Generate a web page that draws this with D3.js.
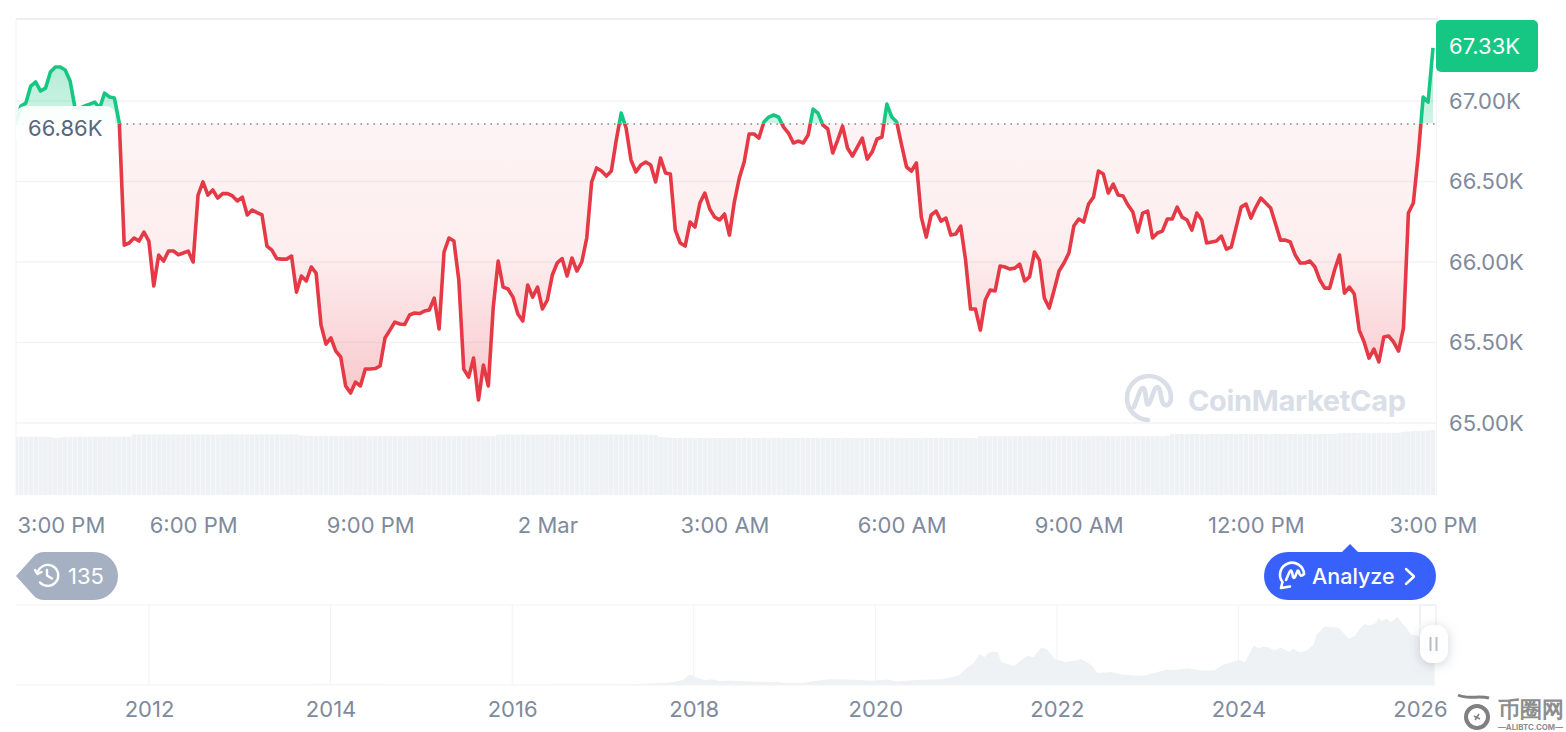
<!DOCTYPE html>
<html>
<head>
<meta charset="utf-8">
<script src="https://cdn.jsdelivr.net/npm/d3@7/dist/d3.min.js"></script>
<style>
  html, body { margin: 0; padding: 0; background: #fff; }
  svg { display: block; }
  text { font-family: Inter, "Noto Sans", sans-serif; }
</style>
</head>
<body>
<svg id="chart" width="1566" height="732" viewBox="0 0 1566 732"></svg>
<script>
// Price in thousands of USD, one sample every 5 minutes over 24 hours
const prices = [
66.863,66.969,66.987,67.093,67.118,67.062,67.080,67.180,67.211,67.211,67.192,67.124,66.956,66.956,66.969,66.981,66.993,66.956,67.049,67.025,67.018,66.863,66.105,
66.118,66.149,66.130,66.186,66.130,65.851,66.043,66.006,66.068,66.068,66.045,66.056,66.068,66.000,66.416,66.497,66.416,66.447,66.397,66.425,66.425,66.410,66.379,66.403,66.292,66.323,66.307,66.292,
66.099,66.074,66.021,66.018,66.018,66.037,65.813,65.913,65.882,65.969,65.931,65.608,65.490,65.528,65.447,65.410,65.230,65.186,65.254,65.230,65.335,65.335,65.338,65.354,65.528,65.577,65.627,65.615,65.612,65.671,65.683,65.680,65.695,65.702,65.776,65.584,
66.062,66.149,66.130,65.888,65.335,65.285,65.403,65.143,65.360,65.230,65.720,66.006,65.844,65.832,65.782,65.677,65.633,65.857,65.782,65.844,65.708,65.764,65.919,65.994,66.021,65.913,66.025,65.944,66.000,66.149,66.497,66.584,66.565,66.534,66.565,66.757,66.925,66.832,66.633,66.559,66.602,66.621,66.602,66.497,66.646,66.553,66.546,66.198,66.118,66.099,66.248,66.217,66.366,66.428,66.329,66.279,66.261,66.298,66.167,66.372,66.521,66.621,66.795,66.795,66.770,66.869,66.900,66.913,66.900,66.838,66.801,66.739,66.751,66.739,66.789,66.950,66.925,66.851,66.826,66.677,66.757,66.844,66.708,66.658,66.714,66.770,66.639,66.683,66.764,66.776,66.981,66.900,66.869,66.726,66.590,66.565,66.615,66.279,66.155,66.292,66.316,66.254,66.273,66.167,
66.174,66.223,66.012,65.708,65.708,65.577,65.764,65.826,65.820,65.975,65.969,65.956,65.962,65.987,65.882,65.907,66.062,66.012,65.776,65.714,65.826,65.944,65.994,66.056,66.223,66.267,66.248,66.360,66.403,66.565,66.546,66.428,66.484,66.416,66.410,66.354,66.310,66.186,66.304,66.316,66.149,66.180,66.192,66.267,66.267,66.341,66.279,66.261,66.198,66.304,66.261,66.118,66.124,66.130,66.161,66.080,66.093,66.217,66.341,66.360,66.273,66.341,66.397,66.366,66.335,66.236,66.136,66.136,66.124,66.043,65.994,65.994,66.006,65.969,65.888,65.838,65.838,65.950,66.043,65.807,65.844,65.801,65.577,65.503,65.403,65.459,65.379,65.534,65.540,65.503,65.447,65.590,66.304,66.366,66.664,67.025,66.993,67.33
];

// Rolling 24h volume in billions of USD, same sampling as the prices
const volumes = [
29.2,29.3,29.2,29.3,29.2,29.2,29.3,29.0,28.6,28.7,29.0,29.1,29.1,29.2,29.1,29.1,29.2,29.1,29.1,29.2,29.1,29.1,29.2,29.2,
30.3,30.3,30.4,30.3,30.3,30.4,30.3,30.3,30.4,30.3,30.3,30.3,30.4,30.3,30.3,30.3,30.2,30.3,30.3,30.3,30.4,30.3,30.3,30.4,30.3,30.3,30.3,30.4,30.3,30.4,30.3,30.3,30.4,30.4,
29.8,29.6,29.6,29.5,29.5,29.6,29.5,29.5,29.4,29.5,29.5,29.5,29.6,29.5,29.4,29.5,29.5,29.5,29.6,29.5,29.5,29.4,29.5,29.5,29.5,29.6,29.5,29.5,29.5,29.4,29.5,29.5,29.6,29.5,29.5,29.5,29.5,29.6,29.5,29.5,
30.2,30.3,30.3,30.2,30.2,30.3,30.2,30.3,30.2,30.3,30.3,30.2,30.2,30.3,30.2,30.2,30.3,30.3,30.2,30.2,30.3,30.2,30.2,30.3,30.2,30.2,30.2,30.3,30.2,30.2,30.2,30.1,30.0,
29.0,28.8,28.6,28.5,28.5,28.6,28.5,28.4,28.5,28.5,28.6,28.5,28.5,28.5,28.4,28.5,28.5,28.6,28.5,28.5,28.5,28.5,28.4,28.5,28.5,28.6,28.5,28.5,28.5,28.4,28.5,28.5,28.5,28.6,28.5,28.5,28.5,28.4,28.5,28.5,28.5,28.6,28.5,28.5,28.5,28.5,28.4,28.5,28.5,28.6,28.5,28.5,28.5,28.4,28.5,28.5,28.5,28.6,28.5,28.5,28.5,28.5,28.4,28.5,28.6,
29.4,29.5,29.5,29.6,29.5,29.5,29.4,29.5,29.5,29.5,29.6,29.5,29.5,29.5,29.4,29.5,29.5,29.6,29.5,29.5,29.5,29.4,29.5,29.5,29.5,29.6,29.5,29.5,29.5,29.4,29.5,29.5,29.6,29.5,29.5,29.5,29.5,29.4,29.6,
30.4,30.5,30.5,30.6,30.5,30.5,30.4,30.5,30.5,30.6,30.5,30.5,30.5,30.4,30.5,30.5,30.6,30.5,30.5,30.5,30.4,30.5,30.5,30.6,30.5,30.5,30.4,30.5,30.5,30.6,30.5,30.5,30.5,30.6,
30.9,31.0,31.0,31.1,31.0,31.0,30.9,31.0,31.0,31.1,31.0,31.0,31.1,
31.6,31.8,32.0,32.0,32.1,32.2,32.5
];

const priceTicks = [65, 65.5, 66, 66.5, 67];
const referencePrice = 66.86;
const lastPriceLabel = "67.33K";

// Hours since the start of the window, with their axis labels
const timeTickHours = [0, 3, 6, 9, 12, 15, 18, 21, 24];
const timeTickLabels = ["3:00 PM", "6:00 PM", "9:00 PM", "2 Mar", "3:00 AM", "6:00 AM", "9:00 AM", "12:00 PM", "3:00 PM"];

// Long-range overview series: fractional year and price in thousands of USD
const overviewYears = [2010.54,2012,2013,2014,2015,2016,2016.96,2017.3,2017.73,2017.88,2017.96,2018.02,2018.11,2018.2,2018.29,2018.38,2018.61,2018.91,2019,2019.2,2019.38,2019.5,2019.73,2019.96,2020.14,2020.23,2020.5,2020.74,2020.92,2021,2021.09,2021.15,2021.2,2021.25,2021.3,2021.35,2021.39,2021.53,2021.6,2021.68,2021.74,2021.83,2021.89,2021.98,2022.1,2022.2,2022.27,2022.39,2022.45,2022.6,2022.7,2022.86,2022.95,2023.1,2023.21,2023.3,2023.45,2023.6,2023.74,2023.83,2024.01,2024.07,2024.17,2024.22,2024.27,2024.33,2024.4,2024.47,2024.56,2024.6,2024.68,2024.75,2024.83,2024.86,2024.95,2025.1,2025.15,2025.21,2025.28,2025.33,2025.39,2025.45,2025.51,2025.54,2025.58,2025.63,2025.68,2025.75,2025.8,2025.84,2025.9,2025.99,2026.16];
const overviewPrices = [0.1,0.01,0.1,0.8,0.3,0.4,1.0,1.2,4.1,8.8,19.3,14.6,8.8,10.5,7.0,8.2,6.4,5.3,3.6,3.9,8.2,10.5,10.0,7.6,10.0,6.4,9.4,10.5,17.6,29.3,41.0,55.7,50.0,58.0,60.4,58.6,41.0,34.0,44.0,52.7,49.8,67.4,64.5,46.9,41.0,44.0,46.9,35.0,21.7,23.4,19.5,17.0,16.5,23.0,28.0,27.0,30.0,26.0,26.4,36.3,45.0,41.0,71.5,66.0,69.0,67.4,62.0,67.0,60.0,65.0,58.6,62.0,73.0,90.8,105.5,103.7,95.0,83.8,87.9,100.0,109.6,107.0,111.0,120.0,115.0,120.0,113.0,123.0,112.0,105.5,91.0,88.0,67.3];
const overviewTicks = [2012, 2014, 2016, 2018, 2020, 2022, 2024, 2026];

const RED = "#e63946", GREEN = "#16c784", GREY = "#808a9d", RULE = "#f1f3f5", FILL = "#eff2f5";

const svg = d3.select("#chart");
const plot = { left: 16, right: 1436, top: 19, bottom: 495 };

// Scales
const x = d3.scaleLinear().domain([0, 24]).range([16, 1433]);
const y = d3.scaleLinear().domain([65, 67]).range([423, 101]);
const volY = d3.scaleLinear().domain([0, 32.5]).range([495, 430]);
const sampleHour = i => i * 24 / (prices.length - 1);

const defs = svg.append("defs");

const redGrad = defs.append("linearGradient").attr("id", "redFade")
  .attr("gradientUnits", "userSpaceOnUse").attr("x1", 0).attr("x2", 0)
  .attr("y1", y(referencePrice)).attr("y2", y(65.1));
[[0, .06], [.45, .085], [1, .29]].forEach(([o, a]) =>
  redGrad.append("stop").attr("offset", o).attr("stop-color", RED).attr("stop-opacity", a));

const greenGrad = defs.append("linearGradient").attr("id", "greenFade")
  .attr("gradientUnits", "userSpaceOnUse").attr("x1", 0).attr("x2", 0)
  .attr("y1", y(67.33)).attr("y2", y(referencePrice));
[[0, .36], [1, .2]].forEach(([o, a]) =>
  greenGrad.append("stop").attr("offset", o).attr("stop-color", GREEN).attr("stop-opacity", a));

defs.append("clipPath").attr("id", "aboveRef").append("rect")
  .attr("x", plot.left).attr("y", 0).attr("width", plot.right - plot.left).attr("height", y(referencePrice));
defs.append("clipPath").attr("id", "belowRef").append("rect")
  .attr("x", plot.left).attr("y", y(referencePrice)).attr("width", plot.right - plot.left).attr("height", 500);
defs.append("clipPath").attr("id", "plotBox").append("rect")
  .attr("x", plot.left).attr("y", 0).attr("width", plot.right - plot.left).attr("height", 500);

// Frame
svg.append("line").attr("x1", plot.left).attr("x2", plot.right + 2).attr("y1", 19).attr("y2", 19)
  .attr("stroke", "#eceef1").attr("stroke-width", 2);
svg.append("line").attr("x1", 16).attr("x2", 16).attr("y1", 19).attr("y2", 495).attr("stroke", RULE);
svg.append("line").attr("x1", 1436.5).attr("x2", 1436.5).attr("y1", 19).attr("y2", 495).attr("stroke", RULE);

// Horizontal grid
svg.append("g").selectAll("line").data(priceTicks).join("line")
  .attr("x1", plot.left).attr("x2", plot.right)
  .attr("y1", d => y(d)).attr("y2", d => y(d))
  .attr("stroke", RULE).attr("stroke-width", 1.5);

// Volume bars
svg.append("g").attr("clip-path", "url(#plotBox)").selectAll("rect").data(volumes).join("rect")
  .attr("x", (d, i) => x(sampleHour(i)) - 2.3)
  .attr("width", 4.6)
  .attr("y", d => volY(d))
  .attr("height", d => 495 - volY(d))
  .attr("fill", FILL);

// Areas either side of the reference price
const area = d3.area()
  .x((d, i) => x(sampleHour(i)))
  .y0(y(referencePrice))
  .y1(d => y(d));
svg.append("path").datum(prices).attr("d", area).attr("fill", "url(#redFade)").attr("clip-path", "url(#belowRef)");
svg.append("path").datum(prices).attr("d", area).attr("fill", "url(#greenFade)").attr("clip-path", "url(#aboveRef)");

// Reference line
svg.append("line").attr("x1", plot.left).attr("x2", plot.right)
  .attr("y1", y(referencePrice) + 0.5).attr("y2", y(referencePrice) + 0.5)
  .attr("stroke", "#7d8695").attr("stroke-width", 1.5).attr("stroke-dasharray", "1.5 5");

// Price line, split in two colours at the reference price
const line = d3.line().x((d, i) => x(sampleHour(i))).y(d => y(d)).curve(d3.curveLinear);
[["url(#belowRef)", RED], ["url(#aboveRef)", GREEN]].forEach(([clip, colour]) => {
  svg.append("path").datum(prices).attr("d", line).attr("fill", "none")
    .attr("stroke", colour).attr("stroke-width", 3.6).attr("stroke-linejoin", "round")
    .attr("clip-path", clip);
});

// Reference price tag
svg.append("rect").attr("x", 16).attr("y", 106).attr("width", 99).attr("height", 40).attr("rx", 9)
  .attr("fill", "#fff").attr("fill-opacity", .9);
svg.append("text").attr("x", 28).attr("y", 136).attr("font-size", 22).attr("fill", "#58667e")
  .text(referencePrice.toFixed(2) + "K");

// Price axis
const yAxis = d3.axisRight(y).tickValues(priceTicks).tickSize(0).tickPadding(0)
  .tickFormat(d => d.toFixed(2) + "K");
const yAxisG = svg.append("g").attr("transform", "translate(1449,0)").call(yAxis);
yAxisG.select(".domain").remove();
yAxisG.selectAll("text").attr("font-size", 22).attr("fill", GREY).attr("font-family", "Inter").attr("dy", "0.33em");

// Last price tag
svg.append("rect").attr("x", 1436).attr("y", 20).attr("width", 102).attr("height", 52).attr("rx", 5).attr("fill", GREEN);
svg.append("text").attr("x", 1449).attr("y", 54).attr("font-size", 22).attr("fill", "#fff").text(lastPriceLabel);

// Time axis
const timeAxis = d3.axisBottom(x).tickValues(timeTickHours).tickSize(0).tickPadding(0)
  .tickFormat((d, i) => timeTickLabels[i]);
const timeG = svg.append("g").attr("transform", "translate(0,516)").call(timeAxis);
timeG.select(".domain").remove();
timeG.selectAll("text").attr("font-size", 22).attr("fill", GREY).attr("font-family", "Inter").attr("dy", "0.76em");
timeG.selectAll("text").filter((d, i) => i === 0).attr("text-anchor", "start").attr("x", 1);

// Brand mark inside the plot
const brand = svg.append("g").attr("transform", "translate(1149,398)")
  .attr("fill", "none").attr("stroke", "#d9dee7").attr("stroke-width", 4.6)
  .attr("stroke-linecap", "round").attr("stroke-linejoin", "round");
brand.append("path").attr("d", "M-1 22 A22 22 0 1 1 22 -1 C22 8 15 10 13 3 L11 -7 C10 -12 7 -12 5 -7 L1 4 C-1 8 -2 7 -2.5 3 L-4 -7 C-5 -11 -7 -11 -9 -7 L-15 9");
svg.append("text").attr("x", 1188).attr("y", 411).attr("font-size", 29).attr("font-weight", 700)
  .attr("fill", "#d9dee7").attr("textLength", 218).attr("font-family", "Lato").text("CoinMarketCap");

// History badge
svg.append("path")
  .attr("d", "M16 576 L34 556 Q38 552 44 552 H94 A24 24 0 0 1 94 600 H44 Q38 600 34 596 Z")
  .attr("fill", "#a6b0c3");
const clock = svg.append("g").attr("transform", "translate(47,575)")
  .attr("fill", "none").attr("stroke", "#fff").attr("stroke-width", 2.4).attr("stroke-linecap", "round").attr("stroke-linejoin", "round");
clock.append("path").attr("d", "M-9.5 -2 A10.5 10.5 0 1 1 -7 7.5");
clock.append("path").attr("d", "M-12 -5 L-9.5 -1 L-5.5 -3");
clock.append("path").attr("d", "M0 -5 V0.5 L5 3.5");
svg.append("text").attr("x", 68).attr("y", 584).attr("font-size", 22).attr("fill", "#fff").text("135");

// Analyze button
svg.append("path").attr("d", "M1342 552 L1350 544 L1358 552 Z").attr("fill", "#3861fb");
svg.append("rect").attr("x", 1264).attr("y", 552).attr("width", 172).attr("height", 48).attr("rx", 24).attr("fill", "#3861fb");
const chat = svg.append("g").attr("transform", "translate(1292,575)")
  .attr("fill", "none").attr("stroke", "#fff").attr("stroke-width", 2.6).attr("stroke-linecap", "round").attr("stroke-linejoin", "round");
chat.append("path").attr("d", "M-2 11.5 L-11 13 L-9.5 7 A12 12 0 1 1 12 -1");
chat.append("path").attr("d", "M-6 5 L-2.5 -3 Q-1 -6 0 -3 L1 2 Q2 4 3 2 L5 -3 Q6 -6 7 -3 Q8 3 12 -1");
svg.append("text").attr("x", 1312).attr("y", 584).attr("font-size", 21.5).attr("font-weight", 500).attr("fill", "#fff").text("Analyze");
svg.append("path").attr("d", "M1406 569 L1414 576.5 L1406 584").attr("fill", "none").attr("stroke", "#fff")
  .attr("stroke-width", 2.4).attr("stroke-linecap", "round").attr("stroke-linejoin", "round");

// Overview chart
const miniX = d3.scaleLinear().domain([2012, 2026]).range([149, 1420]);
const miniY = d3.scaleLinear().domain([0, 126]).range([685, 615]);
svg.append("line").attr("x1", 16).attr("x2", 1436).attr("y1", 605).attr("y2", 605).attr("stroke", RULE);
svg.append("g").selectAll("line").data(overviewTicks).join("line")
  .attr("x1", d => miniX(d)).attr("x2", d => miniX(d)).attr("y1", 605).attr("y2", 685)
  .attr("stroke", RULE);
const miniArea = d3.area()
  .x((d, i) => Math.min(miniX(overviewYears[i]), 1436))
  .y0(685).y1(d => miniY(d));
svg.append("path").datum(overviewPrices).attr("d", miniArea).attr("fill", FILL);
svg.append("line").attr("x1", 16).attr("x2", 1436).attr("y1", 685).attr("y2", 685).attr("stroke", RULE);

// Selected window and its drag handle
svg.append("path").attr("d", "M1420 625 V605 H1436 V625").attr("fill", "none").attr("stroke", "#e8eaee");
svg.append("rect").attr("x", 1420).attr("y", 625).attr("width", 28).attr("height", 38).attr("rx", 12)
  .attr("fill", "#fff").style("filter", "drop-shadow(0 2px 6px rgba(88,102,126,.28))");
svg.append("g").selectAll("line").data([1430.5, 1436.5]).join("line")
  .attr("x1", d => d).attr("x2", d => d).attr("y1", 637).attr("y2", 651)
  .attr("stroke", "#b4bbc7").attr("stroke-width", 2);

const miniAxis = d3.axisBottom(miniX).tickValues(overviewTicks).tickSize(0).tickPadding(0).tickFormat(d3.format("d"));
const miniG = svg.append("g").attr("transform", "translate(0,700)").call(miniAxis);
miniG.select(".domain").remove();
miniG.selectAll("text").attr("font-size", 22).attr("fill", GREY).attr("font-family", "Inter").attr("dy", "0.76em");

// Publisher stamp, bottom right
const stamp = svg.append("g").attr("fill", "none").attr("stroke", "#808080");
stamp.append("circle").attr("cx", 1477).attr("cy", 717).attr("r", 11).attr("stroke-width", 4);
stamp.append("path").attr("d", "M1458 695 C1468 700 1478 695 1489 698").attr("stroke-width", 3);
stamp.append("path").attr("d", "M1474 716 L1480 719 M1479 714 L1475 720").attr("stroke-width", 1.6);
svg.append("text").attr("x", 1498).attr("y", 717).attr("font-size", 21.5).attr("font-weight", 700)
  .attr("font-family", "Noto Sans CJK SC").attr("fill", "#8e8e8e").text("币圈网");
svg.append("text").attr("x", 1498).attr("y", 729.5).attr("font-size", 8).attr("font-weight", 700)
  .attr("font-family", "Liberation Sans").attr("fill", "#8e8e8e")
  .attr("textLength", 65).attr("lengthAdjust", "spacingAndGlyphs").text("—ALIBTC.COM—");
</script>
</body>
</html>
